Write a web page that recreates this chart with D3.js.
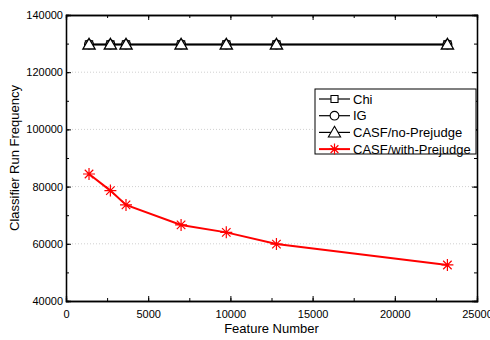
<!DOCTYPE html>
<html><head><meta charset="utf-8">
<script src="https://cdn.jsdelivr.net/npm/d3@7"></script>
<style>body{margin:0;background:#fff}svg{display:block;font-family:"Liberation Sans",Arial,sans-serif}</style>
</head><body><svg id="c" width="490" height="340"></svg>
<script>
const featureNumbers = [1400, 2700, 3650, 7000, 9750, 12800, 23200];
const chiValues = [129700, 129700, 129700, 129700, 129700, 129700, 129700];
const igValues = [129700, 129700, 129700, 129700, 129700, 129700, 129700];
const casfNoPrejudge = [129700, 129700, 129700, 129700, 129700, 129700, 129700];
const casfWithPrejudge = [84400, 78600, 73600, 66600, 64000, 59900, 52600];
const xTicks = [0, 5000, 10000, 15000, 20000, 25000];
const yTicks = [40000, 60000, 80000, 100000, 120000, 140000];
const seriesNames = ["Chi", "IG", "CASF/no-Prejudge", "CASF/with-Prejudge"];

const svg = d3.select("#c");
const L = 66, R = 477, T = 15, B = 301;
const x = d3.scaleLinear().domain([0, 25000]).range([L, R]);
const y = d3.scaleLinear().domain([40000, 140000]).range([B, T]);

// gridlines
svg.append("g").selectAll("line").data(yTicks.filter(v => v > 40000 && v < 140000)).join("line")
  .attr("x1", L).attr("x2", R).attr("y1", d => y(d)).attr("y2", d => y(d))
  .attr("stroke", "#d0d0d0").attr("stroke-width", 1).attr("stroke-dasharray", "1,2");

// axes with inward ticks
const xMinor = d3.range(0, 25001, 2500);
const yMinor = d3.range(40000, 140001, 10000);
function axisG(axis, tx, ty) { return svg.append("g").attr("transform", `translate(${tx},${ty})`).call(axis); }
const ax = axisG(d3.axisBottom(x).tickValues(xTicks).tickSize(-5).tickFormat(d3.format("d")), 0, B);
axisG(d3.axisBottom(x).tickValues(xMinor).tickSize(-3).tickFormat(""), 0, B);
axisG(d3.axisTop(x).tickValues(xTicks).tickSize(-5).tickFormat(""), 0, T);
axisG(d3.axisTop(x).tickValues(xMinor).tickSize(-3).tickFormat(""), 0, T);
axisG(d3.axisLeft(y).tickValues(yTicks).tickSize(-5).tickFormat(d3.format("d")), L, 0);
axisG(d3.axisLeft(y).tickValues(yMinor).tickSize(-3).tickFormat(""), L, 0);
axisG(d3.axisRight(y).tickValues(yTicks).tickSize(-5).tickFormat(""), R, 0);
axisG(d3.axisRight(y).tickValues(yMinor).tickSize(-3).tickFormat(""), R, 0);
svg.selectAll(".domain").attr("stroke", "#000").attr("stroke-width", 1.3);
svg.selectAll(".tick line").attr("stroke", "#000");
svg.selectAll(".tick text").attr("font-size", 11).attr("fill", "#000")
  .attr("font-family", "'Liberation Sans',Arial,sans-serif");
ax.selectAll(".tick text").attr("dy", "1.3em");

// axis titles
svg.append("text").attr("x", (L + R) / 2).attr("y", 333).attr("text-anchor", "middle")
  .attr("font-size", 13).text("Feature Number");
svg.append("text").attr("transform", `translate(19,${(T + B) / 2}) rotate(-90)`).attr("text-anchor", "middle")
  .attr("font-size", 13).text("Classifier Run Frequency");

const line = d3.line().x((d, i) => x(featureNumbers[i])).y(d => y(d));
const blackSeries = [chiValues, igValues, casfNoPrejudge];
blackSeries.forEach(vals => {
  svg.append("path").datum(vals).attr("d", line).attr("fill", "none").attr("stroke", "#000").attr("stroke-width", 1.6);
});
const sq = d3.symbol().type(d3.symbolSquare).size(50)();
const ci = d3.symbol().type(d3.symbolCircle).size(60)();
const tr = d3.symbol().type(d3.symbolTriangle).size(65)();
const shapes = [sq, ci, tr];
blackSeries.forEach((vals, k) => {
  svg.append("g").selectAll("path").data(vals).join("path")
    .attr("transform", (d, i) => `translate(${x(featureNumbers[i])},${y(d) + (k === 2 ? 1 : 0)})`)
    .attr("d", shapes[k]).attr("fill", "#fff").attr("stroke", "#000").attr("stroke-width", 1.3);
});

svg.append("path").datum(casfWithPrejudge).attr("d", line).attr("fill", "none").attr("stroke", "#ff0000").attr("stroke-width", 2);
function starPath(r){ let p=""; for(let a=0;a<4;a++){const t=a*Math.PI/4; p+=`M${-r*Math.cos(t)},${-r*Math.sin(t)}L${r*Math.cos(t)},${r*Math.sin(t)}`;} return p; }
svg.append("g").selectAll("path").data(casfWithPrejudge).join("path")
  .attr("transform", (d, i) => `translate(${x(featureNumbers[i])},${y(d)})`)
  .attr("d", starPath(6)).attr("stroke", "#ff0000").attr("stroke-width", 1.2).attr("fill", "none");

// legend
const lg = svg.append("g");
lg.append("rect").attr("x", 315).attr("y", 89).attr("width", 161).attr("height", 65)
  .attr("fill", "#fff").attr("stroke", "#000").attr("stroke-width", 1);
const legShapes = [sq, ci, tr, null];
seriesNames.forEach((name, i) => {
  const yy = 99 + i * 16.7;
  const col = i === 3 ? "#ff0000" : "#000";
  lg.append("line").attr("x1", 319).attr("x2", 350).attr("y1", yy).attr("y2", yy).attr("stroke", col).attr("stroke-width", i === 3 ? 2 : 1.2);
  if (i < 3) lg.append("path").attr("transform", `translate(334.5,${yy + (i===2?1:0)})`).attr("d", legShapes[i]).attr("fill", "#fff").attr("stroke", "#000").attr("stroke-width", 1.1);
  else lg.append("path").attr("transform", `translate(334.5,${yy})`).attr("d", starPath(5.5)).attr("stroke", "#ff0000").attr("stroke-width", 1.2);
  lg.append("text").attr("x", 353).attr("y", yy + 4.5).attr("font-size", 13).text(name);
});
</script></body></html>
